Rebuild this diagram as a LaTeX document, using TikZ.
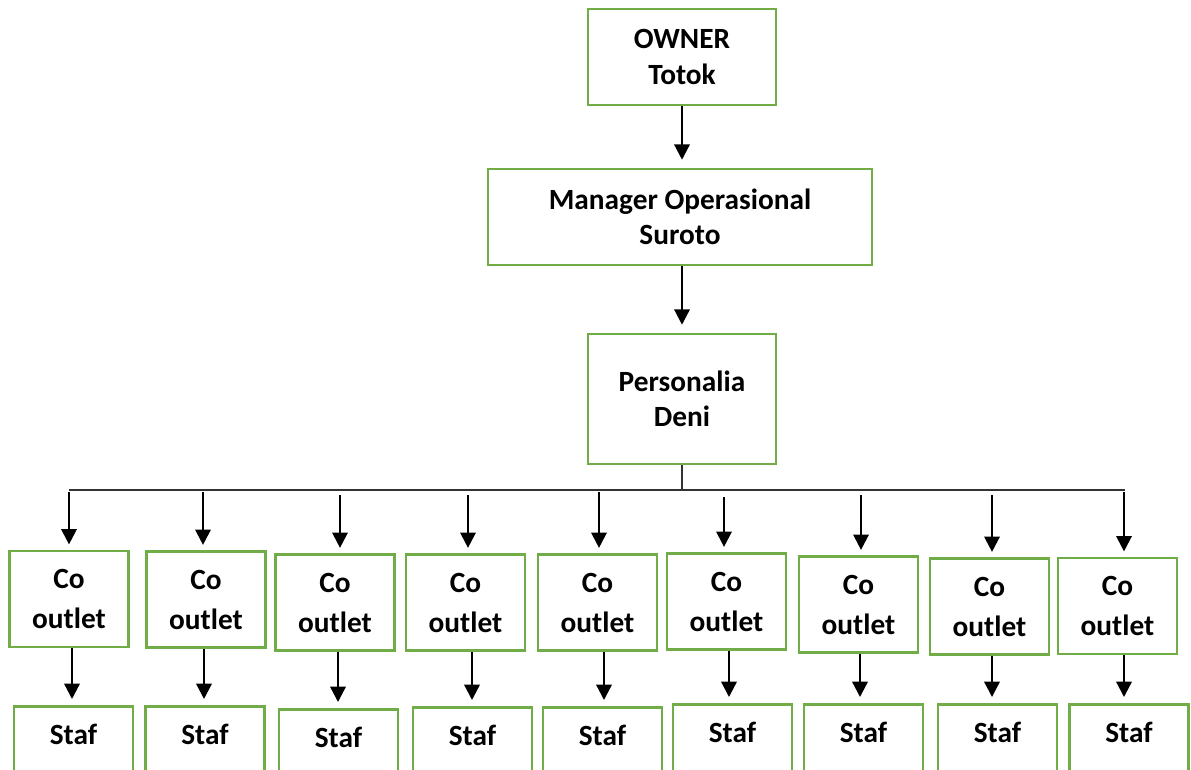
\documentclass[tikz,border=0pt]{standalone}
\usepackage{fontspec}
\setmainfont{Carlito}
\usetikzlibrary{arrows.meta,calc}
\definecolor{boxgreen}{RGB}{112,173,71}
\begin{document}
\begin{tikzpicture}[x=0.75pt,y=-0.75pt,
  box/.style={draw=boxgreen, line width=1.9pt, inner sep=0pt, align=center,
    font=\bfseries\fontsize{22}{26.5}\selectfont},
  cobox/.style={box, minimum width=89.25pt, minimum height=72pt,
    font=\bfseries\fontsize{22}{30}\selectfont},
  stafbox/.style={box, anchor=north, minimum width=89.25pt, text height=29pt, text depth=45pt},
  arr/.style={line width=1.7pt, -{Triangle[width=11.5pt,length=11.5pt]}},
  bus/.style={line width=0.8pt, black!80}]
\useasboundingbox (0,0) rectangle (1191,769);
\clip (0,0) rectangle (1191,769);
\fill[white] (0,0) rectangle (1191,769);

\node[box, minimum width=141pt, minimum height=72pt] (owner) at (682,57) {OWNER\\Totok};
\node[box, minimum width=288pt, minimum height=72pt] (mgr) at (680,217) {Manager Operasional\\Suroto};
\node[box, minimum width=141pt, minimum height=97.5pt] (pers) at (682,399) {Personalia\\Deni};

\draw[arr] (owner.south) -- ($(owner.south |- mgr.north)+(0,6pt)$);
\draw[arr] ($(owner.south |- mgr.south)$) -- ($(owner.south |- pers.north)+(0,6pt)$);

\coordinate (busL) at (69,490);
\coordinate (busR) at (1125,490);
\draw[bus] (pers.south) -- (pers.south |- busL);
\draw[bus] (busL) -- (busR);

% Co outlet boxes
\node[cobox] (co1) at (69,599) {Co\\outlet};
\node[cobox] (co2) at (206,599.5) {Co\\outlet};
\node[cobox] (co3) at (335,602.5) {Co\\outlet};
\node[cobox] (co4) at (465.5,602.5) {Co\\outlet};
\node[cobox] (co5) at (597.5,602.5) {Co\\outlet};
\node[cobox] (co6) at (726.5,601.5) {Co\\outlet};
\node[cobox] (co7) at (858.5,604.5) {Co\\outlet};
\node[cobox] (co8) at (989.5,606.5) {Co\\outlet};
\node[cobox] (co9) at (1117.5,606) {Co\\outlet};

% Staf boxes
\node[stafbox] (st1) at (73.5,705) {Staf};
\node[stafbox] (st2) at (205,705) {Staf};
\node[stafbox] (st3) at (338.5,708) {Staf};
\node[stafbox] (st4) at (472.5,706) {Staf};
\node[stafbox] (st5) at (602.5,706) {Staf};
\node[stafbox] (st6) at (732.5,703) {Staf};
\node[stafbox] (st7) at (863.5,703) {Staf};
\node[stafbox] (st8) at (997.5,703) {Staf};
\node[stafbox] (st9) at (1129,703) {Staf};

% arrows from bus to Co outlet
\coordinate (t1) at (69,492);
\coordinate (t2) at (203,492);
\coordinate (t3) at (340,495);
\coordinate (t4) at (468,495);
\coordinate (t5) at (599,492);
\coordinate (t6) at (724,497);
\coordinate (t7) at (861,495);
\coordinate (t8) at (992,495);
\coordinate (t9) at (1124,492);
\foreach \i in {1,...,9}{
  \draw[arr] (t\i) -- ($(t\i |- co\i.north)+(0,4pt)$);
}

% arrows from Co outlet to Staf
\coordinate (s1) at (72,0);
\coordinate (s2) at (204,0);
\coordinate (s3) at (338,0);
\coordinate (s4) at (472,0);
\coordinate (s5) at (604,0);
\coordinate (s6) at (729,0);
\coordinate (s7) at (860,0);
\coordinate (s8) at (992,0);
\coordinate (s9) at (1124,0);
\foreach \i in {1,...,9}{
  \draw[arr] (s\i |- co\i.south) -- ($(s\i |- st\i.north)+(0,4.5pt)$);
}
\end{tikzpicture}
\end{document}
